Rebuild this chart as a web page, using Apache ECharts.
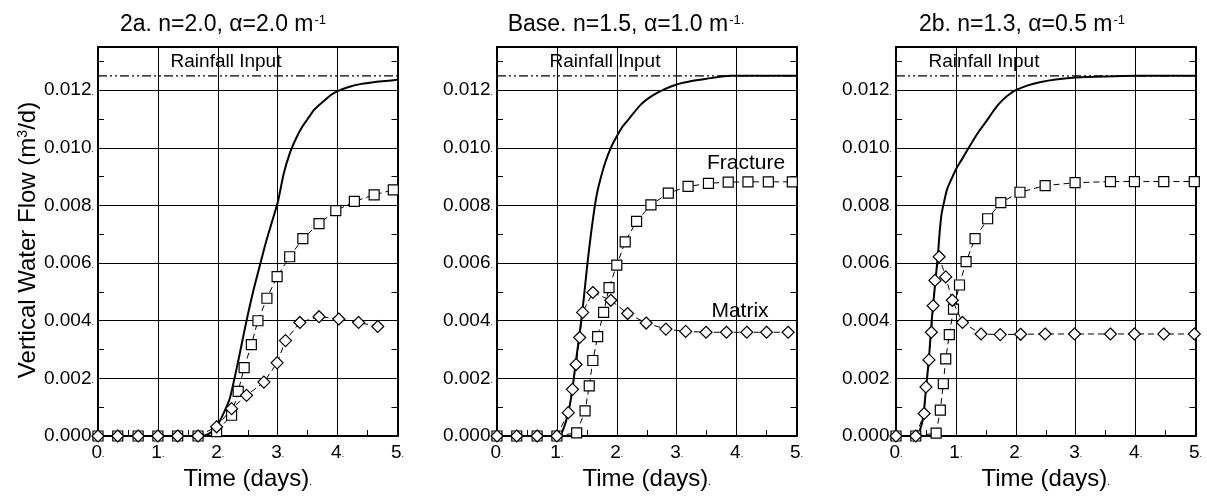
<!DOCTYPE html>
<html><head><meta charset="utf-8">
<script src="https://cdn.jsdelivr.net/npm/echarts@6/dist/echarts.min.js"></script>
<style>html,body{margin:0;padding:0;background:#fff}#c{width:1207px;height:496px}</style>
</head><body><div id="c"></div><script>
const FONT = '"Liberation Sans", Arial, sans-serif';

const panelTitles = [['2a. n=2.0, α=2.0 m', '-1'], ['Base. n=1.5, α=1.0 m', '-1.'], ['2b. n=1.3, α=0.5 m', '-1']];
const xTickLabels = ['0', '1', '2', '3', '4', '5'];
const yTickLabels = ['0.000', '0.002', '0.004', '0.006', '0.008', '0.010', '0.012'];
const rainfallRate = 0.0125;
const rainfallT = [0, 5];

// Panel 2a
const p1TotalT = [0, 1.7, 1.8, 1.9, 2.0, 2.1, 2.2, 2.3, 2.4, 2.5, 2.6, 2.7, 2.8, 2.9, 3.0, 3.1, 3.2, 3.3, 3.4, 3.5, 3.6, 3.7, 3.8, 3.9, 4.0, 4.2, 4.4, 4.6, 4.8, 5.0];
const p1TotalV = [0, 0, 0.00003, 0.00015, 0.0004, 0.0008, 0.0013, 0.0022, 0.0032, 0.0042, 0.0051, 0.0059, 0.0067, 0.0074, 0.0081, 0.0091, 0.0098, 0.0103, 0.0107, 0.0110, 0.0113, 0.0115, 0.01168, 0.01185, 0.01197, 0.01212, 0.01222, 0.01228, 0.01232, 0.01236];
const p1FracT = [0, 0.33, 0.67, 1.0, 1.33, 1.67, 1.98, 2.23, 2.34, 2.44, 2.56, 2.67, 2.82, 2.99, 3.2, 3.42, 3.69, 3.97, 4.28, 4.61, 4.93];
const p1FracV = [0, 0, 0, 0, 0, 0, 0.00015, 0.00072, 0.00155, 0.00237, 0.00317, 0.0040, 0.00478, 0.00553, 0.00622, 0.00685, 0.00737, 0.00782, 0.00814, 0.00837, 0.00854];
const p1MatT = [0, 0.33, 0.67, 1.0, 1.33, 1.67, 1.98, 2.23, 2.48, 2.77, 2.99, 3.13, 3.37, 3.69, 4.02, 4.35, 4.67];
const p1MatV = [0, 0, 0, 0, 0, 0, 0.00032, 0.00095, 0.00141, 0.00187, 0.00254, 0.00331, 0.00394, 0.00414, 0.00406, 0.00394, 0.0038];

// Panel Base
const p2TotalT = [0, 1.0, 1.05, 1.1, 1.15, 1.2, 1.25, 1.3, 1.35, 1.4, 1.45, 1.5, 1.55, 1.6, 1.65, 1.7, 1.8, 1.9, 2.0, 2.1, 2.2, 2.4, 2.6, 2.8, 3.0, 3.25, 3.5, 3.9, 5.0];
const p2TotalV = [0, 0, 0.00002, 0.0002, 0.0005, 0.0009, 0.0015, 0.0023, 0.0031, 0.0039, 0.0048, 0.0058, 0.0067, 0.0075, 0.0082, 0.0087, 0.00945, 0.0100, 0.0104, 0.01075, 0.0110, 0.0115, 0.01182, 0.01204, 0.0122, 0.01232, 0.0124, 0.0125, 0.0125];
const p2FracT = [0, 0.33, 0.67, 1.0, 1.33, 1.47, 1.54, 1.6, 1.68, 1.78, 1.87, 2.0, 2.14, 2.33, 2.57, 2.86, 3.19, 3.53, 3.86, 4.19, 4.53, 4.93];
const p2FracV = [0, 0, 0, 0, 0.00011, 0.00087, 0.00174, 0.00262, 0.00345, 0.00429, 0.00515, 0.00593, 0.00674, 0.00745, 0.00802, 0.00843, 0.00866, 0.00877, 0.00881, 0.00882, 0.00882, 0.00882];
const p2MatT = [0, 0.33, 0.67, 1.0, 1.19, 1.26, 1.32, 1.38, 1.43, 1.6, 1.9, 2.18, 2.49, 2.82, 3.15, 3.49, 3.83, 4.17, 4.5, 4.86];
const p2MatV = [0, 0, 0, 0, 0.00081, 0.00162, 0.00248, 0.00342, 0.00429, 0.00498, 0.00471, 0.00425, 0.00392, 0.00371, 0.00363, 0.0036, 0.0036, 0.0036, 0.0036, 0.0036];

// Panel 2b
const p3TotalT = [0, 0.35, 0.4, 0.45, 0.5, 0.55, 0.6, 0.65, 0.7, 0.73, 0.76, 0.8, 0.85, 0.9, 1.0, 1.1, 1.2, 1.3, 1.4, 1.5, 1.6, 1.7, 1.8, 1.9, 2.0, 2.2, 2.4, 2.7, 3.0, 3.5, 4.0, 5.0];
const p3TotalV = [0, 0, 0.0002, 0.0006, 0.0016, 0.0027, 0.0041, 0.0052, 0.0063, 0.0071, 0.0077, 0.0081, 0.00855, 0.0088, 0.00925, 0.0096, 0.00995, 0.0103, 0.01062, 0.0109, 0.0112, 0.01148, 0.0117, 0.01187, 0.0120, 0.01217, 0.01228, 0.01238, 0.01244, 0.01248, 0.0125, 0.0125];
const p3FracT = [0, 0.33, 0.67, 0.74, 0.79, 0.83, 0.89, 0.96, 1.06, 1.17, 1.32, 1.53, 1.75, 2.07, 2.49, 2.99, 3.58, 3.98, 4.47, 4.98];
const p3FracV = [0, 0, 0.0001, 0.0009, 0.00182, 0.00268, 0.00352, 0.0044, 0.00524, 0.00605, 0.00685, 0.00754, 0.0081, 0.00846, 0.00869, 0.00879, 0.00883, 0.00883, 0.00883, 0.00883];
const p3MatT = [0, 0.33, 0.47, 0.5, 0.55, 0.59, 0.62, 0.65, 0.72, 0.83, 0.94, 1.11, 1.42, 1.74, 2.08, 2.49, 2.98, 3.58, 3.98, 4.47, 4.98];
const p3MatV = [0, 0, 0.00078, 0.0017, 0.00264, 0.0036, 0.00452, 0.0054, 0.00622, 0.00552, 0.00471, 0.00394, 0.00354, 0.00352, 0.00353, 0.00354, 0.00354, 0.00354, 0.00354, 0.00354, 0.00354];

const panels = [
  {total: [p1TotalT, p1TotalV], frac: [p1FracT, p1FracV], mat: [p1MatT, p1MatV]},
  {total: [p2TotalT, p2TotalV], frac: [p2FracT, p2FracV], mat: [p2MatT, p2MatV]},
  {total: [p3TotalT, p3TotalV], frac: [p3FracT, p3FracV], mat: [p3MatT, p3MatV]}
];
const zip = (t, v) => t.map((x, i) => [x, v[i]]);

const gridLefts = [98, 497, 896];
const grids = gridLefts.map(l => ({left: l, top: 47, width: 299.5, height: 389}));

const dotRich = {a: {fontSize: 19, fontFamily: FONT, color: '#000'}, d: {fontSize: 9, fontFamily: FONT, color: '#000', verticalAlign: 'bottom', padding: [0, 0, 3, 0]}};

const xAxes = [], yAxes = [], series = [];
grids.forEach((g, i) => {
  xAxes.push({
    gridIndex: i, type: 'value', min: 0, max: 5, interval: 1, position: 'bottom',
    axisLine: {show: true, onZero: false, lineStyle: {color: '#000', width: 2}},
    axisTick: {show: true, inside: true, length: 6, lineStyle: {color: '#000'}},
    minorTick: {show: true, splitNumber: 2, length: 6, lineStyle: {color: '#000'}},
    axisLabel: {margin: 7, formatter: v => '{a|' + xTickLabels[Math.round(v)] + '}{d|.}', rich: dotRich},
    splitLine: {show: true, lineStyle: {color: '#000', width: 1}},
    name: '{n|Time (days)}{d|.}', nameLocation: 'middle', nameGap: 27,
    nameTextStyle: {rich: {n: {fontSize: 24, fontFamily: FONT, color: '#000'}, d: {fontSize: 10, fontFamily: FONT, color: '#000', verticalAlign: 'bottom', padding: [0, 0, 4, 0]}}}
  });
  xAxes.push({
    gridIndex: i, type: 'value', min: 0, max: 5, interval: 1, position: 'top',
    axisLine: {show: true, onZero: false, lineStyle: {color: '#000', width: 2}},
    axisTick: {show: false}, axisLabel: {show: false}, splitLine: {show: false}
  });
  yAxes.push({
    gridIndex: i, type: 'value', min: 0, max: 0.0135, interval: 0.001, position: 'left',
    axisLine: {show: true, onZero: false, lineStyle: {color: '#000', width: 2}},
    axisTick: {show: true, inside: true, length: 6, lineStyle: {color: '#000'}},
    axisLabel: {margin: 4, showMaxLabel: false, rich: dotRich, formatter: v => {
      const k = Math.round(v * 1000);
      if (Math.abs(v * 1000 - k) > 1e-6 || k % 2) return '';
      return '{a|' + yTickLabels[k / 2] + '}{d|.}';
    }},
    splitLine: {show: false}
  });
  yAxes.push({
    gridIndex: i, type: 'value', min: 0, max: 0.0135, interval: 0.001, position: 'right',
    axisLine: {show: true, onZero: false, lineStyle: {color: '#000', width: 2}},
    axisTick: {show: true, inside: true, length: 6, lineStyle: {color: '#000'}},
    axisLabel: {show: false}, splitLine: {show: false}
  });
  yAxes.push({
    gridIndex: i, type: 'value', min: 0, max: 0.0135, interval: 0.002,
    axisLine: {show: false}, axisTick: {show: false}, axisLabel: {show: false},
    splitLine: {show: true, lineStyle: {color: '#000', width: 1}}
  });
  const xi = i * 2, yi = i * 3;
  const p = panels[i];
  series.push({
    type: 'line', xAxisIndex: xi, yAxisIndex: yi, data: zip(rainfallT, [rainfallRate, rainfallRate]),
    symbol: 'none', lineStyle: {color: '#000', width: 1.3, type: [9, 3, 2, 3, 2, 3]}, z: 3
  });
  series.push({
    type: 'line', xAxisIndex: xi, yAxisIndex: yi, data: zip(p.total[0], p.total[1]),
    symbol: 'none', smooth: 0.2, lineStyle: {color: '#000', width: 2}, z: 4
  });
  series.push({
    type: 'line', xAxisIndex: xi, yAxisIndex: yi, data: zip(p.frac[0], p.frac[1]),
    symbol: 'rect', symbolSize: 10, showAllSymbol: true,
    itemStyle: {color: '#fff', borderColor: '#000', borderWidth: 1.2},
    lineStyle: {color: '#000', width: 1, type: [6, 4]}, z: 5
  });
  series.push({
    type: 'line', xAxisIndex: xi, yAxisIndex: yi, data: zip(p.mat[0], p.mat[1]),
    symbol: 'diamond', symbolSize: [12, 12], showAllSymbol: true,
    itemStyle: {color: '#fff', borderColor: '#000', borderWidth: 1.2},
    lineStyle: {color: '#000', width: 1, type: [6, 4]}, z: 6
  });
});

const titleCenters = [223, 626, 1022];
const rainCenters = [226, 605, 984];
const graphic = [];
panelTitles.forEach((t, i) => {
  graphic.push({type: 'text', x: titleCenters[i], y: 25, z: 10, style: {
    text: '{t|' + t[0] + '}{s|' + t[1] + '}', align: 'center', verticalAlign: 'middle',
    rich: {t: {fontSize: 23, fontFamily: FONT, fill: '#000', color: '#000'}, s: {fontSize: 13, fontFamily: FONT, fill: '#000', color: '#000', verticalAlign: 'top', padding: [0, 0, 10, 1]}}
  }});
  graphic.push({type: 'text', x: rainCenters[i], y: 62, z: 10, style: {
    text: 'Rainfall Input', align: 'center', verticalAlign: 'middle', fontSize: 19, fontFamily: FONT, fill: '#000'
  }});
});
graphic.push({type: 'text', x: 746, y: 163, z: 10, style: {text: 'Fracture', align: 'center', verticalAlign: 'middle', fontSize: 21, fontFamily: FONT, fill: '#000'}});
graphic.push({type: 'text', x: 740, y: 311, z: 10, style: {text: 'Matrix', align: 'center', verticalAlign: 'middle', fontSize: 21, fontFamily: FONT, fill: '#000'}});
graphic.push({type: 'text', x: 28, y: 240, rotation: Math.PI / 2, z: 10, style: {
  text: '{t|Vertical Water Flow (m}{s|3}{t|/d)}', align: 'center', verticalAlign: 'middle',
  rich: {t: {fontSize: 24, fontFamily: FONT, fill: '#000', color: '#000'}, s: {fontSize: 14, fontFamily: FONT, fill: '#000', color: '#000', verticalAlign: 'top', padding: [0, 0, 10, 0]}}
}});

const chart = echarts.init(document.getElementById('c'), null, {renderer: 'canvas'});
chart.setOption({
  animation: false,
  backgroundColor: '#fff',
  textStyle: {fontFamily: FONT, color: '#000'},
  grid: grids,
  xAxis: xAxes,
  yAxis: yAxes,
  series: series,
  graphic: graphic
});
</script></body></html>
